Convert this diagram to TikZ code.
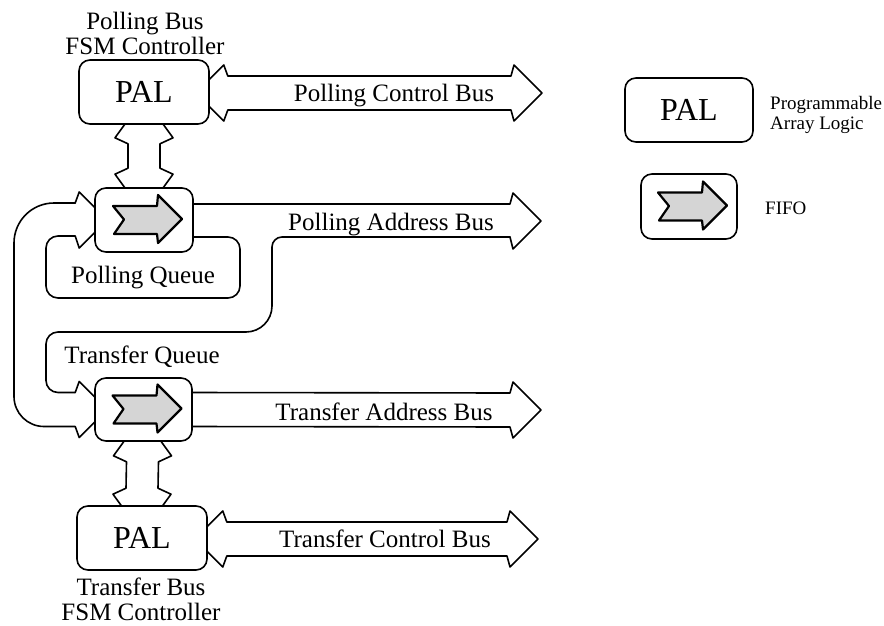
\documentclass[tikz,border=0pt]{standalone}
\usepackage{fontspec}
\setmainfont{Liberation Serif}
\usetikzlibrary{calc}
\pgfdeclarelayer{paper}
\pgfdeclarelayer{bands}
\pgfsetlayers{paper,bands,main}

% double-headed horizontal bus: #1 left tip, #2 right tip
\newcommand\dbusH[2]{%
  \draw[band] (#1) -- ($(#1)+(28,-28)$) -- ($(#1)+(32,-17)$) -- ($(#2)+(-31,-17)$)
    -- ($(#2)+(-28,-28)$) -- (#2) -- ($(#2)+(-28,28)$) -- ($(#2)+(-31,17)$)
    -- ($(#1)+(32,17)$) -- ($(#1)+(28,28)$) -- cycle;}
% double-headed vertical bus: #1 upper tip, #2 lower tip
\newcommand\dbusV[2]{%
  \draw[band] (#1) -- ($(#1)+(-29,40)$) -- ($(#1)+(-16,46)$) -- ($(#2)+(-16,-46)$)
    -- ($(#2)+(-29,-40)$) -- (#2) -- ($(#2)+(29,-40)$) -- ($(#2)+(16,-46)$)
    -- ($(#1)+(16,46)$) -- ($(#1)+(29,40)$) -- cycle;}

\begin{document}
\begin{tikzpicture}[x=1pt,y=-1pt,
  lw/.style={line width=1.6pt},
  unit/.style={draw, lw, fill=white, rounded corners=11pt, inner sep=0pt},
  palbox/.style={unit, minimum width=130pt, minimum height=64pt,
    font=\fontsize{32}{36}\selectfont},
  fifobox/.style={unit, minimum width=98pt, minimum height=64pt},
  band/.style={lw, line cap=round, line join=round},
  lbl/.style={inner sep=0pt, anchor=base, font=\fontsize{25}{25}\selectfont},
  title/.style={inner sep=0pt, anchor=north, align=center,
    font=\fontsize{25}{24.5}\selectfont},
  keytext/.style={inner sep=0pt, anchor=base west, font=\fontsize{19}{20}\selectfont},
  fifoarrow/.pic={
    \filldraw[fill=gray!33, line width=2.2pt, line join=round]
      (-31,-14) -- (13,-14) -- (14,-25) -- (38,-1) -- (14,23) -- (13,14)
      -- (-30,14) -- (-20,-0.5) -- cycle;}
]
\begin{pgfonlayer}{paper}
  \fill[white] (0,0) rectangle (884,626);
\end{pgfonlayer}
\useasboundingbox (0,0) rectangle (884,626);

% controllers and queues
\node[palbox] (palP) at (144,92) {PAL};
\node[fifobox] (fifoP) at (144,220) {};
\node[fifobox, minimum width=97pt, minimum height=63pt] (fifoT) at (143.5,409.5) {};
\node[palbox] (palT) at (142,538) {PAL};
\pic at (fifoP.center) {fifoarrow};
\pic at (fifoT.center) {fifoarrow};

% key
\node[palbox, minimum width=128pt] (keyPAL) at (689,110) {PAL};
\node[fifobox, minimum width=96pt, minimum height=65pt] (keyFIFO) at (689,206.5) {};
\pic at (keyFIFO.center) {fifoarrow};
\node[keytext] (keyP1) at (770,110) {Programmable};
\node[keytext] (keyP2) at (770,129) {Array Logic};
\node[keytext] (keyF) at (765,214) {FIFO};

% titles
\node[title] (tP) at (145,12) {Polling Bus\\FSM Controller};
\node[title] (tT) at (141,578) {Transfer Bus\\FSM Controller};

% tips of the bus arrows
\coordinate (pcbA) at ($(palP.east)+(-14,1)$);
\coordinate (pcbB) at (542,93);
\coordinate (tcbA) at ($(palT.east)+(-13,1)$);
\coordinate (tcbB) at (538,539);
\coordinate (pab) at (541,221);
\coordinate (tab) at (541,410);
\coordinate (T1) at ($(fifoP.west)+(13,0)$);
\coordinate (T2) at ($(fifoT.west)+(13,0)$);
\coordinate (vA1) at ($(palP.south)+(0,-27)$);
\coordinate (vA2) at ($(fifoP.north)+(0,27)$);
\coordinate (vB1) at ($(fifoT.south)+(-1,-26)$);
\coordinate (vB2) at ($(palT.north)+(0,29)$);

\begin{pgfonlayer}{bands}
  % control buses
  \dbusH{pcbA}{pcbB}
  \dbusH{tcbA}{tcbB}
  % PAL <-> FIFO links
  \dbusV{vA1}{vA2}
  \dbusV{vB1}{vB2}
  % transfer address bus
  \draw[band] ($(fifoT.east)+(-6,-17)$) -- ($(tab)+(-31,-17)$) -- ($(tab)+(-28,-28)$)
    -- (tab) -- ($(tab)+(-28,28)$) -- ($(tab)+(-31,17)$) -- ($(fifoT.east)+(-6,17)$);
  % polling address bus head and upper edge
  \draw[band] ($(pab)+(-31,16)$) -- ($(pab)+(-28,28)$) -- (pab) -- ($(pab)+(-28,-28)$)
    -- ($(pab)+(-31,-17)$) -- ($(fifoP.east)+(-6,-16)$);
  % heads entering the queues from the left
  \draw[band] ($(T1)+(-32,-17)$) -- ($(T1)+(-28,-28)$) -- (T1) -- ($(T1)+(-28,28)$)
    -- ($(T1)+(-32,16)$);
  \draw[band] ($(T2)+(-32,-17)$) -- ($(T2)+(-28,-28)$) -- (T2) -- ($(T2)+(-28,28)$)
    -- ($(T2)+(-32,17)$);
  % outer return loop
  \draw[band, rounded corners=40pt] ($(T1)+(-32,-17)$) -- (14,203) -- (14,315);
  \draw[band, rounded corners=30pt] (14,315) -- (14,426.5) -- ($(T2)+(-32,17)$);
  % transfer queue path
  \draw[band, rounded corners=12pt] ($(T2)+(-32,-17)$) -- (46,392.5) -- (46,332) -- (150,332);
  \draw[band, rounded corners=26pt] (150,332) -- (272,332) -- (272,285);
  \draw[band, rounded corners=10pt] (272,285) -- (272,237) -- (400,237) -- ($(pab)+(-31,16)$);
  % polling queue loop
  \draw[band, rounded corners=12pt] ($(fifoP.east)+(-6,17)$) -- (240,237) -- (240,298)
    -- (46,298) -- (46,236) -- ($(T1)+(-32,16)$);
\end{pgfonlayer}

% bus labels
\node[lbl] (lPCB) at (394,102) {Polling Control Bus};
\node[lbl] (lPAB) at (391,230) {Polling Address Bus};
\node[lbl] (lTAB) at (384,420) {Transfer Address Bus};
\node[lbl] (lTCB) at (385,547) {Transfer Control Bus};
\node[lbl] (lPQ) at (143,283) {Polling Queue};
\node[lbl] (lTQ) at (142,363) {Transfer Queue};
\end{tikzpicture}
\end{document}
